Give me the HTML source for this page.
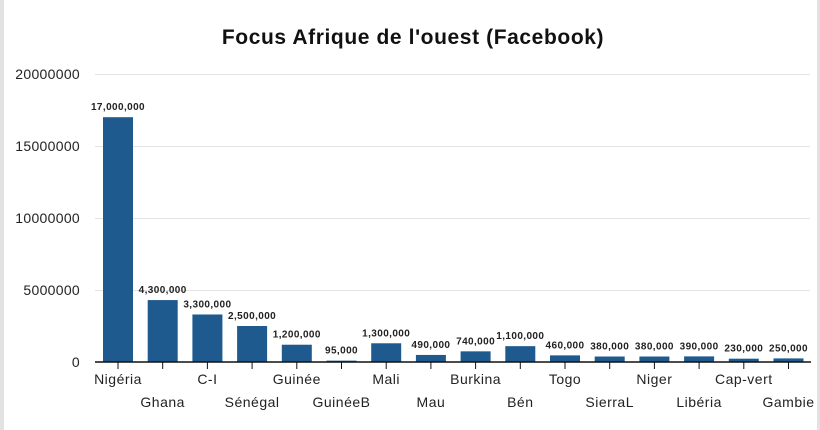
<!DOCTYPE html>
<html><head><meta charset="utf-8"><style>
html,body{margin:0;padding:0;background:#fff;}
body{width:820px;height:430px;overflow:hidden;position:relative;font-family:"Liberation Sans",sans-serif;}
</style></head><body>
<div style="position:absolute;left:0;top:0;width:4px;height:430px;background:#e2e2e2"></div>
<div style="position:absolute;right:0;top:0;width:3px;height:430px;background:#e2e2e2"></div>
<svg width="820" height="430" style="position:absolute;left:0;top:0" font-family="Liberation Sans, sans-serif">
<text x="413" y="44" text-anchor="middle" font-size="21" font-weight="bold" fill="#111" letter-spacing="0.6">Focus Afrique de l'ouest (Facebook)</text>
<g stroke="#e4e4e4" stroke-width="1">
<line x1="95" x2="810" y1="74.5" y2="74.5"/><line x1="95" x2="810" y1="146.5" y2="146.5"/>
<line x1="95" x2="810" y1="218.5" y2="218.5"/><line x1="95" x2="810" y1="290.5" y2="290.5"/>
</g>
<g font-size="14" fill="#222" text-anchor="end" letter-spacing="0.3">
<text x="80" y="79">20000000</text><text x="80" y="151">15000000</text><text x="80" y="223">10000000</text><text x="80" y="295">5000000</text><text x="80" y="367">0</text>
</g>
<g id="bars"></g>
<line x1="95" x2="811" y1="362" y2="362" stroke="#111" stroke-width="1.5"/>
</svg>
<script>
var d=[["Nigéria",17000000,"17,000,000"],["Ghana",4300000,"4,300,000"],["C-I",3300000,"3,300,000"],["Sénégal",2500000,"2,500,000"],["Guinée",1200000,"1,200,000"],["GuinéeB",95000,"95,000"],["Mali",1300000,"1,300,000"],["Mau",490000,"490,000"],["Burkina",740000,"740,000"],["Bén",1100000,"1,100,000"],["Togo",460000,"460,000"],["SierraL",380000,"380,000"],["Niger",380000,"380,000"],["Libéria",390000,"390,000"],["Cap-vert",230000,"230,000"],["Gambie",250000,"250,000"]];
var s="";
d.forEach(function(r,i){var x=103+i*44.7,h=r[1]/5000000*72,c=x+15;
s+='<rect x="'+x+'" y="'+(362-h)+'" width="30" height="'+h+'" fill="#1f5a8e"/>';
s+='<text x="'+c+'" y="'+(362-h-7)+'" text-anchor="middle" font-size="10" font-weight="bold" fill="#222" letter-spacing="0.4">'+r[2]+'</text>';
s+='<line x1="'+c+'" x2="'+c+'" y1="362" y2="369" stroke="#111"/>';
s+='<text x="'+c+'" y="'+(i%2?407:384)+'" text-anchor="middle" font-size="14" fill="#222" letter-spacing="0.5">'+r[0]+'</text>';});
document.getElementById("bars").innerHTML=s;
</script>
</body></html>
